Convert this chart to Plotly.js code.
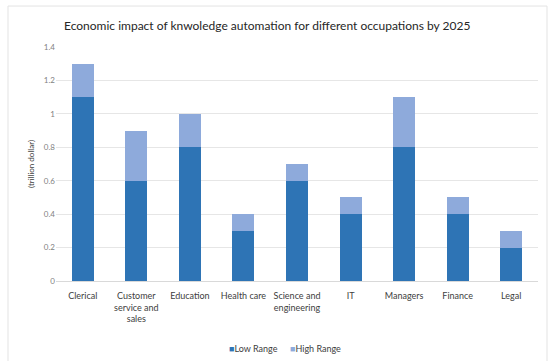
<!DOCTYPE html>
<html><head><meta charset="utf-8">
<script src="https://cdn.plot.ly/plotly-3.0.1.min.js"></script>
<style>html,body{margin:0;padding:0;background:#fff}#c{width:551px;height:361px}</style>
</head><body><div id="c"></div>
<script>
const categories = ["Clerical","Customer<br>service and<br>sales","Education","Health care","Science and<br>engineering","IT","Managers","Finance","Legal"];
const seriesNames = ["Low Range","High Range"];
const lowRange = [1.1,0.6,0.8,0.3,0.6,0.4,0.8,0.4,0.2];
const highRange = [0.2,0.3,0.2,0.1,0.1,0.1,0.3,0.1,0.1];
const yTicks = [0,0.2,0.4,0.6,0.8,1,1.2,1.4];
const colors = ["#2E74B5","#8EAADB"];

const font = "Lato, 'Open Sans', sans-serif";
const data = [
  {type:"bar", x:categories, y:lowRange, name:seriesNames[0], marker:{color:colors[0]}},
  {type:"bar", x:categories, y:highRange, name:seriesNames[1], marker:{color:colors[1]}}
];
const legendAnn = seriesNames.map((n,i)=>({
  xref:"paper", yref:"paper", x:[0.355,0.482][i], y:-0.29, xanchor:"left", yanchor:"middle", showarrow:false,
  text:"<span style='color:"+colors[i]+"'>■</span>"+n, font:{size:9,color:"#404040",family:font}
}));
const layout = {
  width:551, height:361, barmode:"stack", bargap:0.59,
  margin:{l:56,r:13,t:47,b:80},
  paper_bgcolor:"#fff", plot_bgcolor:"#fff",
  font:{family:font, color:"#595959", size:9},
  title:{text:"Economic impact of knwoledge automation for different occupations by 2025", font:{family:font,size:12,color:"#262626"}, x:0.485, xanchor:"center", yref:"container", y:0.928, yanchor:"middle"},
  xaxis:{tickfont:{size:9,color:"#404040"}, showline:true, linecolor:"#d9d9d9", ticks:"", automargin:false, ticklabelstandoff:6},
  yaxis:{range:[0,1.4], tickvals:yTicks, ticktext:yTicks.map(String), gridcolor:"#e6e6e6", zeroline:false, showline:false, automargin:false,
    title:{text:"(trillion dollar)", font:{size:8,color:"#404040"}, standoff:8}, tickfont:{size:8,color:"#7f7f7f"}},
  showlegend:false,
  annotations:legendAnn,
  shapes:[{type:"rect", xref:"paper", yref:"paper", x0:-0.0996, x1:1.0187, y0:-0.4, y1:1.175, line:{color:"#e3e3e3",width:1}}]
};
Plotly.newPlot("c", data, layout, {displayModeBar:false, staticPlot:true});
</script></body></html>
